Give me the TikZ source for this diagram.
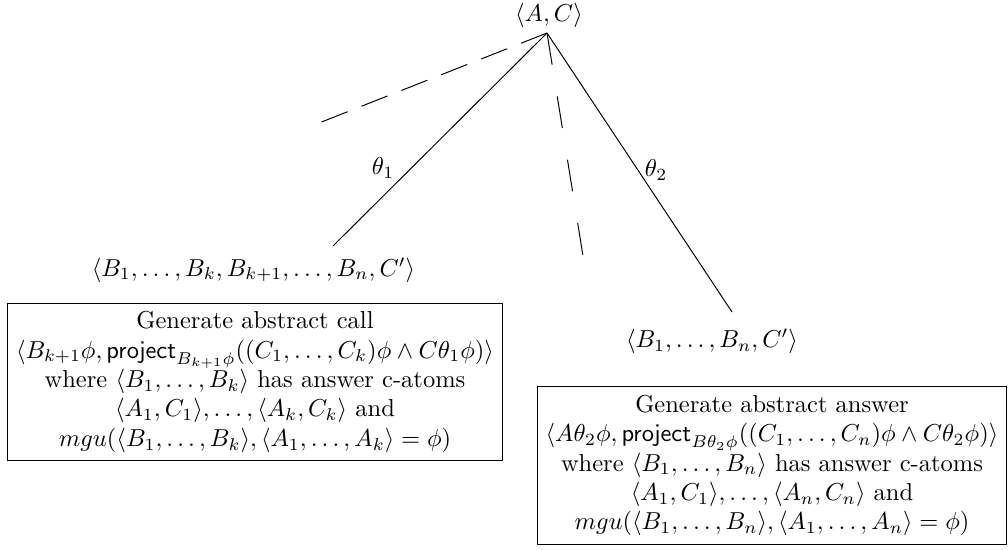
\documentclass[tikz,border=0pt]{standalone}
\usepackage{amsmath}
\begin{document}
\begin{tikzpicture}[x=0.4082pt,y=-0.4082pt,
  lbl/.style={inner sep=0pt},
  infobox/.style={draw,line width=0.4pt,align=center,inner sep=3.33pt},
  branch/.style={line width=0.4pt},
  dashA/.style={line width=0.4pt,dash pattern=on 11.4pt off 6.1pt},
  dashB/.style={line width=0.4pt,dash pattern=on 13.1pt off 13.1pt}]
\useasboundingbox (0,0) rectangle (1008,550);
\node[lbl] (root) at (549,15) {$\langle A,C\rangle$};
\coordinate (r) at (547,33);
\coordinate (dl) at (319,123);
\coordinate (dm) at (583,256);
\coordinate (el) at (333,246);
\coordinate (er) at (732,312);
\node[lbl] (t1) at (383,168) {$\theta_1$};
\node[lbl] (t2) at (656,170) {$\theta_2$};
\node[lbl] (left) at (253.5,270) {$\langle B_1,\ldots,B_k,B_{k+1},\ldots,B_n,C'\rangle$};
\node[lbl] (right) at (712,341.5) {$\langle B_1,\ldots,B_n,C'\rangle$};
\node[infobox] (lbox) at (255,382) {Generate abstract call\\
$\langle B_{k+1}\phi,\mathsf{project}_{B_{k+1}\phi}((C_1,\ldots,C_k)\phi\wedge C\theta_1\phi)\rangle$\\
where $\langle B_1,\ldots,B_k\rangle$ has answer c-atoms\\
$\langle A_1,C_1\rangle,\ldots,\langle A_k,C_k\rangle$ and\\
$mgu(\langle B_1,\ldots,B_k\rangle,\langle A_1,\ldots,A_k\rangle=\phi)$};
\node[infobox] (rbox) at (772,465.5) {Generate abstract answer\\
$\langle A\theta_2\phi,\mathsf{project}_{B\theta_2\phi}((C_1,\ldots,C_n)\phi\wedge C\theta_2\phi)\rangle$\\
where $\langle B_1,\ldots,B_n\rangle$ has answer c-atoms\\
$\langle A_1,C_1\rangle,\ldots,\langle A_n,C_n\rangle$ and\\
$mgu(\langle B_1,\ldots,B_n\rangle,\langle A_1,\ldots,A_n\rangle=\phi)$};
\draw[dashA] (r) -- (dl);
\draw[dashB] (r) -- (dm);
\draw[branch] (r) -- (el);
\draw[branch] (r) -- (er);
\end{tikzpicture}
\end{document}
